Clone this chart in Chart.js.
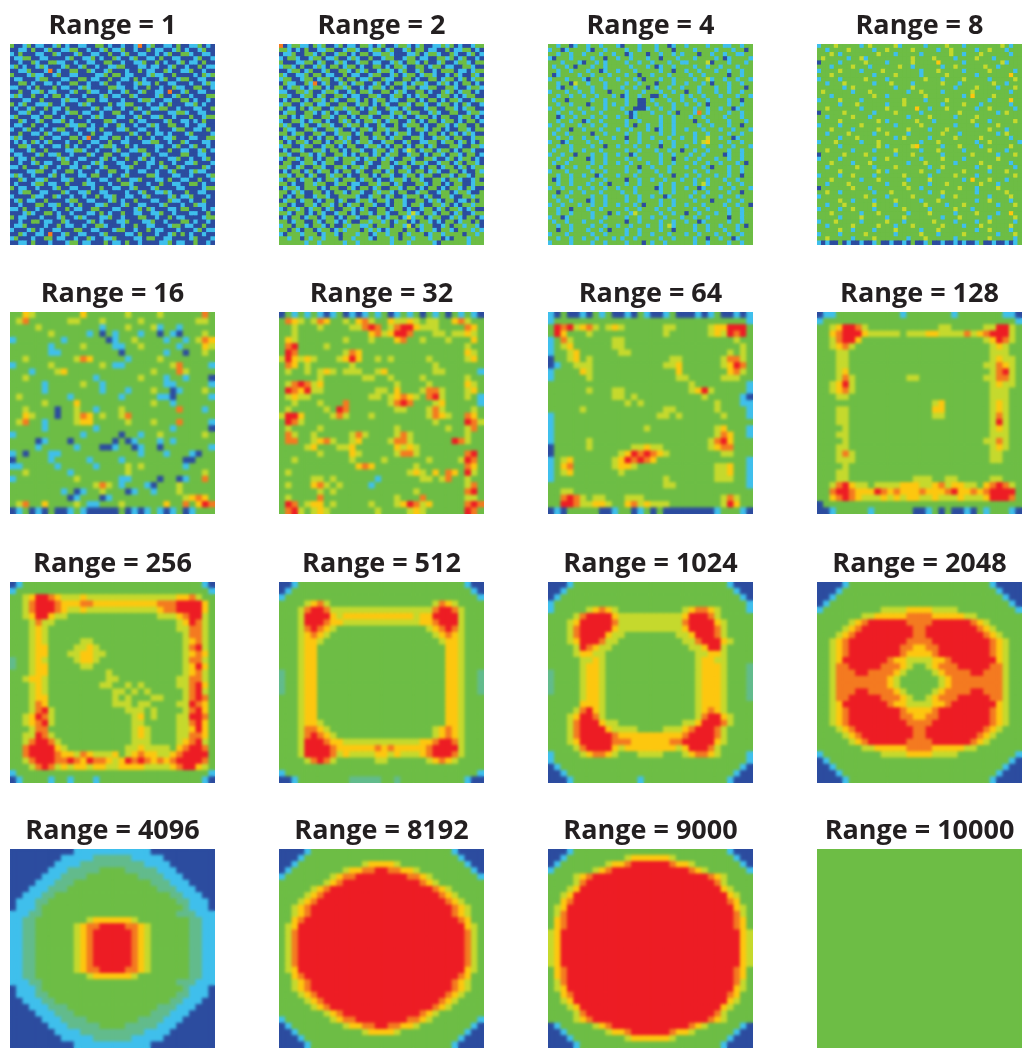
<!DOCTYPE html>
<html>
<head>
<meta charset="utf-8">
<title>Range panels</title>
<script src="https://cdn.jsdelivr.net/npm/chart.js@4/dist/chart.umd.min.js"></script>
<style>
    html, body { margin: 0; padding: 0; background: #fff; }
    #panels { position: relative; width: 1023px; height: 1048px; overflow: hidden; }
    #panels canvas { position: absolute; }
</style>
</head>
<body>
<div id="panels"></div>
<script>
// each cell is one level of the colour map
const range1 = [
"30013011 00130100 11003301 00100160 13001103 00113010","00110300 13001133 00100130 11300100 30110013 01001300","10300011 00310001 30011003 00130011 00101300 33100110","01133001 10000130 01130100 31001300 11030011 00013001",
"00100310 03311001 00110033 00100113 00301001 30110300","13010013 10001300 13001001 13300011 01100130 01003011","00113000 16010033 00310013 00010030 11003100 11300100","30001311 00130011 00001130 33011000 13110030 00010313",
"01100013 30001100 33011003 00110301 00013001 33001100","00330100 11010033 00100130 01000131 10300110 00100131","11001030 00301100 13100003 31100100 30010031 10033001","00300113 01100013 00311001 00130013 00110600 13001100",
"13100300 10330100 01000130 11003100 00130013 00100033","00011003 00001311 00330110 00100013 31001100 33010010","30130011 13001000 13100003 01133000 10010300 01130100","01001300 30110300 00013011 00100310 01133001 00011003",
"00113001 00100133 01100100 33001001 30000113 31001100","13000110 33001000 30013100 01100130 01130010 00300133","00310013 00113010 00100033 10003011 00001300 11010300","01100300 10000311 33010010 03100100 13100330 01001100",
"10013001 00133001 00110300 01130011 00100013 30011030","00300110 31001100 10030011 00003100 30110100 01300001","13100003 00110033 01600110 33010030 01001130 00110033","01010310 13000100 30011003 00110001 13300100 31000110",
"00331001 00110301 00100133 10030100 00110013 00130010","10001300 30000113 31001000 13001133 00100300 11001301","01100013 01130010 00310033 00110001 30011000 33001100","30110300 00013100 11000130 10030013 01000113 00100130",
"00100130 11003301 00013100 01100300 11030010 01130001","11030001 30010011 03100130 00113000 10013003 10000310","00001133 00100330 10001003 30010011 00100130 00131100","13100100 01301000 11033001 00130000 33100011 00100013",
"00310011 30001130 00100110 03001130 00110300 11003001","01000133 01100300 03110001 00331000 10030011 00330100","30110010 00130011 00010300 11001300 01300001 10000133","00133001 10003100 11300110 00010013 00113100 03001100",
"10000311 00310010 01003011 30011001 30000130 11300010","01301100 30000133 00110001 30100300 01100311 00100300","00100033 01130010 30001130 00130011 00013000 10031100","11030010 00100301 10033000 11000130 31000110 33000101",
"00013100 33010010 00110301 00300110 01130010 00110030","30110001 00013001 31000113 00100033 00100301 10000133","00100330 11003100 00130100 01130001 13001000 33010010","01130000 10030110 01003310 00100300 11000133 01100300",
"10001301 00110003 30011000 13300100 30110001 00013011","00310011 06001300 11000130 00011030 00100130 30100100","13000100 33011001 00310011 30000110 33001100 00130001","00110300 01000133 01100030 11030010 00011301 10030010"
];
const range2 = [
"60133110 31300130 11033101 30013310 13001131 30100133","33101030 01133001 33100133 01300130 33011003 01133010","01130033 10300133 01033011 33100011 30133100 31001301","10331001 33011300 13100300 13300133 01100331 30130010",
"30001133 01300131 00133011 00131033 10300130 01331033","13310300 13103301 33010033 01033100 33013301 10033100","00133013 00130033 10313001 33101300 13001033 30110133","31001130 33011003 01100133 00130133 01331001 03100310",
"13300133 01330130 33011300 31100330 10033013 30130133","03110031 60130013 01330013 01033101 33100131 01033010","30133101 33010331 30010133 10300133 01133003 31001331","11003313 00133100 13033100 33013100 33010031 30133010",
"33100133 01300331 01100331 00133010 13300133 01013300","01033010 33103100 33103013 30110033 01033010 33100133","13300133 01130033 00133010 31003310 33100133 01031001","30110301 33001331 33010130 03110130 00133003 31013300",
"01330033 10130100 13300331 00133013 30013100 33001331","33010133 00331033 01033100 33101300 13301033 00133010","10033101 33010031 30103313 01330013 01033013 30103301","31300130 01331003 13301003 10030133 30100331 01330030",
"03110033 10033130 01033103 31330010 33103301 00331033","33013300 33100133 30130033 01013310 01033010 31013100","01330103 01033013 10033013 30133003 31001331 03300133","30103310 33010331 30133100 13300130 01133013 30130103",
"13300133 00133010 33001331 01033010 33013000 33100331","01033100 33103301 03310013 30130143 01330133 01033100","33100331 01300331 01033013 01330013 30103310 33103301","10331033 01033103 33101330 13100331 00331001 30133010",
"03300133 10133003 31003100 33013301 33100133 01303310","33101300 33100331 03313001 33100130 01033013 30130133","01033013 01330103 30130033 01303310 33013100 33010031","33103301 30031330 10033010 33100133 01330033 10331033",
"10330133 01033103 33013301 00133103 31003310 33100130","33010033 13300133 01100331 33013000 33103301 03300133","01331033 30103300 31033013 00331033 01033010 33103100","33013100 33010331 03310031 33103300 13300133 01331003",
"30103300 13310033 33100133 01300133 30130033 10033133","01330133 01033013 00133103 31033100 33013103 30110303","33010033 10331030 13303310 01033103 31003313 01033133","10331301 33013003 31013003 30133010 01330130 33101300",
"33103301 03100133 01033103 31003314 10331033 01300133","01033013 30133010 33100331 01330141 33013300 13103301","33013300 31033101 30033133 13013301 03310103 30133030","13303310 33103003 13311303 33033140 31330013 03313310",
"33031033 01330131 33303131 01333033 01331033 10333131","10333133 30133103 33133013 31330313 33013313 33303313","33133031 33133303 31333103 33130331 33313301 03331333","33333313 31333331 33133333 33133313 33331033 33331333"
];
const range3 = [
"33133013 31331333 10333133 31330133 13333133 31133133","13301333 31033133 33133133 31333033 33133331 33313303","33133133 13331331 33013330 33133131 33303313 31331133","10333133 33133033 13313331 33033313 33133331 30133331",
"33313331 03313133 33133133 13331331 13333403 33133313","31331303 33133133 33313331 30133133 33133133 13331333","33133133 31330133 13331333 33133033 13313331 33133133","30133331 33133313 33133033 13331333 31331333 33033133",
"13331333 10331333 13331303 33133133 33133413 31331331","33133043 31333133 33133133 30333133 13331303 33133133","33103313 33133133 31331330 31331331 33313331 33133303","13331331 33133303 33133313 33133133 03313331 33133133",
"33133133 13313331 30133133 00313331 31331333 13331331","31330333 33133133 33133003 13331331 33133133 33133033","33133133 30333131 33133003 31333133 13313033 33133133","13313331 33133133 31330001 33133133 33133133 13301333",
"33133133 13331333 33101333 13331303 33163133 33133133","33013313 33133133 13301333 33133133 31331333 31333133","33133133 01331333 33133133 33133133 33033133 33133313","13313331 33133133 33130331 33133133 33313313 33133033",
"33133033 13331333 13313331 30133133 13331333 13313331","31331333 33033133 33133133 33133133 33133133 33133133","33133133 13313331 33033133 13331331 33133433 13301333","13301333 31331333 33133133 33133133 33134533 33133133",
"33133133 33133033 13331331 33033133 13331333 13313331","31333133 13331333 33133133 31331330 33133133 33133133","13313303 33133133 13301333 33133133 31331333 30133133","33133133 30133133 33133133 33133033 13313331 33133133",
"31331333 33133133 13313331 33133133 33133133 13331303","33013313 31331333 33133033 13331333 13331303 33133133","13331333 33133133 33133133 31331333 33133133 33133133","33133133 13301333 13331333 33133033 13313331 33133033",
"30133133 33133133 33033133 13313331 33133133 31331333","33133133 31331303 33133133 33133133 33134133 33133133","13313331 33133133 13331333 30133133 13301333 13313331","33033133 13331333 31331333 33133133 33133133 33133033",
"31331333 33133133 33133133 13301333 31331333 13331333","33133133 30133133 33133133 33133133 33133303 33133133","13313331 33133133 13331303 33133133 13331333 31331330","33133033 31331333 33133133 31331333 33133133 33133133",
"33133133 33133303 13314333 33133133 03313331 33133133","13301333 33133133 33133133 13313331 33133133 33033133","31331333 13331333 33033133 33133133 13301333 33133133","33133133 33133133 13313331 33134133 33133133 13331303",
"33033133 31331303 33133133 33133033 33133133 31331333","13331333 33133133 33133133 13331333 13313331 33133133","33133133 13313331 31331333 33133133 33133033 13301333","13333133 33133133 33133303 13313333 33133133 33133133"
];
const range4 = [
"13334333 33134333 33413333 31333343 33133333 33343133","33133334 33333133 43333343 33331334 33333133 43331333","33343133 33333343 33133333 13333334 33133343 33333133","34333331 33413333 33333343 33343333 13333433 31333333",
"03333133 33343333 13333343 33335333 33133333 33341333","33313333 43331333 33343313 33333133 43333334 33133333","13333433 33133334 33333333 13334333 33133333 43333313","33343333 33333133 33433333 13333343 33333133 33333533",
"13333133 33343333 13333333 34333133 33433333 13333343","33133343 33333133 34333313 33333433 31333333 34331333","33333313 43333333 33133343 33333333 13333433 33133343","34333333 13334333 33333133 43333133 33334333 33333133",
"33313333 33333433 13333333 34333333 33135333 34333333","13333433 33133333 33334333 31333343 33333333 13333533","33333133 34333333 13334333 33333133 33433313 33333133","33433333 33133333 43333335 33133343 33333133 43333313",
"03333343 33333133 33433333 13333333 34333333 33134333","33133333 43331333 33333133 33433333 13333433 33333333","33333433 33333343 13333334 33313333 33334333 13333343","13333133 33433333 33133333 43333333 13333133 33433333",
"33343333 13333343 33333433 33133343 33333333 43331333","33133334 33333133 43333133 33333433 31333333 33134333","33333133 34333333 33134333 33133333 43333343 33333133","13334333 33133343 33333333 13334333 33333133 43333331",
"33333133 33333343 13333345 33333133 34333313 33333433","33433333 13333133 33433333 13334333 33133333 43331333","03333343 33343333 33133343 33333133 33334333 33133343","13333133 33333133 43333333 13333433 33133333 33433333",
"33343333 13334333 33333133 34333333 13333343 33333133","33133333 34333133 33433333 33133433 33333133 43333313","33333433 33333343 13333333 43331333 33433333 13334333","13333133 43333133 33334333 33133333 43333133 33333343",
"33343333 33133343 33333133 33433333 33135333 43331333","33133334 33333333 13334333 33133343 33333343 33133333","03333333 43331333 33333433 13333333 34333133 33433333","33433133 33333133 34333333 33133433 33333133 33334333",
"13333333 33343333 13333343 33333133 43333333 13333433","33333433 13333133 33433333 13334333 33333133 43333133","33133343 33333433 33133333 34333313 33433333 33133343","13333133 43333133 33334333 33133333 43331333 33333333",
"33343333 33133343 33333133 33433333 13333433 33133533","33333133 33433333 13334333 33333133 34333333 13333343","13334333 33133333 43331333 33343333 13333133 43333313","33133333 43333343 33133343 33333433 33133343 33333433",
"33333433 13333133 33433333 13334333 33333133 43333133","13333133 33343333 33133333 43331333 33433333 33133343","33433333 13333433 33333133 34333333 13333333 43333313","10100301 00100130 01001030 01300100 10100130 01001013"
];
const range5 = [
"3354 3333 3335 3333 3343 3334 3333 3363","3463 3333 3443 3343 3333 4333 3333 3443","3333 4333 3333 3313 3343 3341 3313 3333","3333 3343 3333 1303 1333 1330 3103 3343",
"1333 3333 1333 3330 1334 3333 1331 3465","3333 3313 3334 3333 1133 4333 3313 3354","3333 3311 3333 3333 3033 3333 1330 3343","3343 3333 3346 5333 3313 3334 3333 3333",
"1333 3343 3333 3343 1133 3333 3463 3331","3331 3334 5333 3333 3333 3343 3364 3333","3343 3333 3333 3133 3333 4333 1331 3330","3333 3133 3334 3313 3333 3333 1133 3331",
"3333 3133 3333 3313 3313 3343 3013 3343","3433 3333 3133 3333 3133 3331 1033 3331","3333 3433 3353 3333 3333 3343 3133 3333","3343 3330 3343 3133 3433 3333 3363 3313",
"3354 3330 3346 5343 3463 3333 3333 3333","3463 3133 3345 5333 3343 3343 3363 3331","3333 3133 3333 3133 3333 3333 3133 3330","1333 3333 3331 3333 3033 1334 3333 3343",
"3333 0133 3033 3333 0301 3331 3133 3333","3333 1333 3313 3300 1330 1330 3333 3331","1303 3311 3333 3333 3333 1333 1333 1033","0333 3313 3333 1333 3133 3333 3330 0333",
"1133 3331 3333 3133 3343 4333 3331 3333","3343 3333 3133 3333 3343 3333 3333 3343","1333 3333 3343 3333 3113 3330 3301 3363","3333 3333 3333 3464 3133 3103 3343 3333",
"3333 3333 1301 3343 3301 3313 3343 3333","3333 3333 3013 3301 3333 3333 3334 5653","3463 3533 3343 1133 3433 3333 5336 3576","0130 1030 0131 0000 0301 0131 0130 1333"
];
const range6 = [
"0313 1310 1301 0131 3013 1303 1303 1310","3654 3465 3343 5643 3544 5434 4335 6433","3343 3343 3334 4676 3467 7544 4333 3653","3343 3333 3333 3356 4577 6333 4434 4543",
"3543 3333 3343 3343 3356 3343 3343 3353","3673 3334 3333 3333 3333 3333 3333 3433","3763 3333 3346 5333 3333 3333 3333 3543","4754 5433 3457 5334 3433 3334 3333 3453",
"3653 4333 3334 3333 3333 3333 4333 3333","3433 4345 4344 4334 5333 3333 4433 3331","3333 3343 3333 3443 3433 3343 3333 3433","3467 6453 3333 3333 3343 3334 3333 3543",
"3765 7443 3333 3334 4353 3346 6433 3453","3454 4333 3333 3344 3456 5436 7433 3431","3343 3343 3363 3333 3467 6333 4533 3331","3433 3334 3763 3333 3344 3334 6433 3343",
"4775 3333 4643 3343 3333 3334 6543 3653","3764 3333 3333 3333 3333 3333 4333 3764","3433 3343 3333 3333 3343 3333 3343 3463","3643 3433 3334 6433 3346 4333 3333 3433",
"3663 3456 4334 5333 3466 4333 3337 6433","3333 4533 3445 3333 3354 5433 3333 3333","3333 3343 3335 4333 3346 6433 3333 3673","3343 3333 3334 3333 4333 3334 3333 4763",
"3333 3333 3333 5653 3333 3433 3333 3653","3433 3333 3333 3333 3333 4543 5365 3743","3333 3443 4333 3331 3333 3344 3463 3433","3433 3564 3433 3313 3333 3333 3333 3463",
"3333 3343 4333 3333 3333 3433 3333 3673","3433 3363 3333 3333 3343 3363 3333 3443","3763 4553 4333 3343 3345 7645 3333 3676","3674 3454 3333 3334 3333 4543 3333 3763"
];
const range7 = [
"1030 0103 1300 1031 0013 0001 0130 0101","1333 3333 3333 3333 3333 3333 3333 3331","3767 4564 3454 3333 3344 3333 3455 7773","3753 3343 3333 3333 3343 3333 3454 7673",
"1364 3333 3344 3333 3333 3333 3333 3433","1345 3333 3344 3333 3333 3333 3333 3343","1334 5333 3334 4333 3333 3333 3333 4343","0334 5343 3333 3333 3334 4333 3334 6643",
"0133 4443 3333 3333 3344 5333 3334 5763","1333 3543 3333 3333 3333 5333 3333 5643","1333 3343 3333 3333 3333 4433 3334 4433","3333 3333 3333 3333 3333 3343 3333 3331",
"3333 3343 3344 3333 3333 3345 7433 3331","3333 3333 3344 3433 3333 3333 4333 3310","3333 3333 3333 4343 3333 3333 3343 3311","3333 3433 3333 3333 3344 3333 3343 3331",
"1333 3333 3333 3333 3443 4333 3334 3331","1333 3333 3333 3333 3333 3333 3333 3333","1333 3333 3333 3334 3333 3333 3345 3331","1333 3333 3333 3333 3333 3333 3346 5331",
"1333 3343 3333 3333 3333 3333 3467 5333","0333 3343 3333 3445 4433 3333 3456 6333","0333 3333 3334 5767 6543 3333 3334 4333","1345 3333 3345 7676 5333 3333 3333 3331",
"1356 3333 3345 5433 3333 3333 3344 5331","1345 3333 3334 3333 3333 3333 3344 5331","1333 3333 3333 3333 3343 3333 3344 4331","3333 3333 3333 3333 3344 3333 3333 3331",
"3344 3333 3333 3333 3333 3333 3333 3333","3367 6434 4333 4443 3333 3333 3334 6433","3377 6445 5433 5645 4443 3333 3334 7533","0103 3333 0013 3013 0300 0000 0013 3310"
];
const range8 = [
"0113 3333 3333 3133 3333 3133 3333 3110","1333 3333 3333 3333 3333 3333 3333 3331","3345 7764 3333 3333 3334 4333 3344 7743","3356 7775 4444 4344 4554 4446 4567 7743",
"3346 7753 3333 3333 3333 3333 3345 7643","3345 6433 3333 3333 3333 3333 3334 5433","3334 4333 3333 3333 3333 3333 3334 4433","3334 4333 3333 3333 3333 3333 3334 5443",
"3334 4333 3333 3333 3333 3333 3344 6543","3334 5333 3333 3333 3333 3333 3334 6743","3334 6433 3333 3344 3333 3333 3344 6643","3345 7433 3333 3333 3333 3333 3334 5443",
"3345 6433 3333 3333 3333 3333 3334 4433","3334 4333 3333 3333 3333 3333 3334 4433","3333 3333 3333 3333 3345 3333 3334 5433","3334 4333 3333 3333 3355 3333 3334 5433",
"3334 4333 3333 3333 3344 3333 3334 6433","3334 4333 3333 3333 3333 3333 3334 7433","3333 4333 3333 3333 3333 3333 3334 5433","3334 4333 3333 3333 3333 3333 3334 4433",
"3333 4333 3333 3333 3333 3333 3344 6433","3334 4333 3333 3333 3333 3333 3334 5433","3334 6433 3333 3333 3333 3333 3334 4333","3334 4433 3333 3333 3333 3333 3334 4333",
"3333 4333 3333 3333 3333 3333 3333 3333","3334 4333 3333 3333 3333 3333 3333 3333","3334 4333 3333 3334 4433 4433 3334 4333","3346 7544 3444 4555 4456 4554 4356 7643",
"3367 7655 5765 6555 6555 6755 6567 7773","3356 7654 4454 5455 4454 4454 4457 7763","0333 3333 3333 3333 3333 3333 3333 3333","0013 3333 1333 3330 0130 3001 0313 3310"
];
const range9 = [
"0133 3333 3333 3333 3333 3333 3333 3310","1333 3333 3333 3333 3333 3333 3333 3331","3345 7765 4445 4444 4444 4444 4455 6433","3346 7776 5556 6555 5555 5556 6677 7753",
"3346 7776 5445 4444 4444 4445 6677 7753","3345 7754 4333 3333 3333 3334 4456 7743","3334 6443 3333 3333 3333 3333 3345 7643","3334 5433 3333 3333 3333 3333 3344 6643",
"3334 5433 3333 3333 3333 3333 3334 6643","3334 5433 3334 4333 3333 3333 3334 5643","3334 5533 3344 5433 3333 3333 3334 6743","3334 5533 3445 5443 3333 3333 3334 5653",
"2334 5433 3345 5433 3333 3333 3334 6643","2334 5533 3334 4333 3333 3333 3334 5753","3334 5533 3333 3334 3333 3333 3334 5643","3345 5433 3333 3334 4333 3333 3344 6643",
"3334 5433 3333 3344 3343 4333 3344 6753","3334 5433 3333 3333 4434 3433 3334 6743","3334 5533 3333 3333 4343 3344 3334 6763","3334 6533 3333 3333 4443 4433 3344 7653",
"3334 6743 3333 3333 3344 4343 3334 6753","3345 7643 3333 3333 3334 5343 3344 7763","3345 6743 3333 3333 3334 4333 3344 6753","3334 6633 3333 3333 3334 5433 3344 5753",
"3344 7643 3333 3333 3334 5433 3344 6653","3346 7764 3333 3333 3334 4433 3345 6743","3367 7775 4333 3333 3344 5444 4356 7763","3367 7776 5546 5444 5345 6554 4567 7773",
"3346 7776 6765 7665 4576 7656 5677 7763","3334 6764 5455 4554 4555 5444 4567 7543","1333 3333 3333 3333 3333 3333 3333 3331","0133 3313 3133 3133 3333 3333 3333 3310"
];
const range10 = [
"0013 3333 3333 3333 3333 3333 3333 3100","0133 3333 3333 3333 3333 3333 3333 3310","1333 3333 3333 3333 3333 3333 3333 3331","3333 4564 3333 3333 3333 3333 4654 3333",
"3334 6776 4444 4444 4444 4444 6776 4333","3334 7777 5455 5555 5555 5455 7777 4333","3334 7776 5544 4444 4444 4455 6777 4333","3334 6765 4333 3333 3333 3334 5676 4333",
"3334 5654 3333 3333 3333 3333 4565 4333","3334 5543 3333 3333 3333 3333 3455 4333","3334 5533 3333 3333 3333 3333 3355 4333","3334 5533 3333 3333 3333 3333 3355 4333",
"3334 5533 3333 3333 3333 3333 3355 4333","3334 5533 3333 3333 3333 3333 3355 4333","2334 5533 3333 3333 3333 3333 3355 4332","2334 5533 3333 3333 3333 3333 3355 4332",
"2334 5533 3333 3333 3333 3333 3355 4332","2334 5533 3333 3333 3333 3333 3355 4332","3334 5533 3333 3333 3333 3333 3355 4333","3334 5533 3333 3333 3333 3333 3355 4333",
"3334 5533 3333 3333 3333 3333 3355 4333","3334 5533 3333 3333 3333 3333 3355 4333","3334 5543 3333 3333 3333 3333 3355 4333","3334 6654 3333 3333 3333 3333 4565 4333",
"3334 6765 4333 3333 3333 3333 4565 4333","3334 7776 5544 4444 4444 4455 6776 4333","3334 7777 6555 5556 5655 5556 7777 4333","3334 7777 6454 4445 5454 4456 7776 4333",
"3333 4676 4333 3334 4333 3334 5654 3333","3333 3333 3333 3333 3333 3333 3333 3333","1333 3333 3333 3333 3333 3333 3333 3331","0013 3333 3332 2222 3323 3333 3333 3100"
];
const range11 = [
"0001 3333 3333 3333 3333 3333 3333 1000","0013 3333 3333 3333 3333 3333 3333 3100","0133 3333 3333 3333 3333 3333 3333 3310","1333 3333 3333 3333 3333 3333 3333 3331",
"1333 3345 6543 3333 3333 3456 6543 3331","3333 4677 7754 4444 4444 4577 7643 3333","3334 5777 7764 4444 4444 4677 7754 3333","3334 6777 7754 4444 4444 4577 7764 3333",
"3334 6777 7544 3333 3333 4457 7764 3333","3334 5777 6443 3333 3333 3446 7775 4333","3333 4765 4433 3333 3333 3344 5774 3333","3333 4554 4333 3333 3333 3334 4554 3333",
"3333 3445 4333 3333 3333 3334 5544 3333","3333 3455 4333 3333 3333 3334 5554 3332","2333 3455 4333 3333 3333 3334 5554 3332","2333 3455 4333 3333 3333 3334 5554 3332",
"2333 3455 4333 3333 3333 3334 5554 3332","2333 3455 4333 3333 3333 3334 5554 3332","3333 3455 4333 3333 3333 3334 5554 3332","3333 3555 4333 3333 3333 3334 5554 3333",
"3333 4675 4333 3333 3333 3334 5654 3333","3334 5776 4333 3333 3333 3334 6775 4333","3334 6777 5443 3333 3333 3445 7776 4333","3334 6777 7544 4433 3344 4567 7764 3333",
"3334 6777 7765 5555 5555 5677 7764 3333","3334 5777 7766 6555 5556 6777 7754 3333","3333 4677 7754 5555 5555 4577 7643 3333","1333 3456 6543 3344 4433 3456 6543 3331",
"1333 3333 3333 3333 3333 3333 3333 3331","0133 3333 3333 3333 3333 3333 3333 3310","0013 3333 3333 3333 3333 3333 3333 3100","0001 3333 3333 3313 3333 3333 3333 1000"
];
const range12 = [
"0000 1333 3333 3333 3333 3333 3331 0000","0001 3333 3333 3333 3333 3333 3333 1000","0013 3333 3333 3333 3333 3333 3333 3100","0133 3333 3333 3333 3333 3333 3333 3310",
"1333 3333 3344 4455 5544 4433 3333 3331","3333 3334 4555 5566 6655 5554 4333 3333","3333 3456 7777 7766 6677 7777 6543 3333","3333 4567 7777 7776 6777 7777 7654 3333",
"3334 5677 7777 7776 6777 7777 7765 4333","3345 6777 7777 7766 6677 7777 7776 5433","3345 6777 7777 7665 5667 7777 7776 5433","3345 6777 7777 7655 5567 7777 7776 5433",
"3345 7777 7776 5544 4455 6777 7777 5433","3346 6777 7766 6543 3456 6677 7776 6433","3346 6677 6666 5433 3345 6666 7766 6433","3346 6666 6665 4333 3334 5666 6666 6433",
"3346 6666 6665 4333 3334 5666 6666 6433","3346 6677 6666 5433 3345 6666 7766 6433","3346 6777 7766 6543 3456 6677 7776 6433","3345 7777 7776 5544 4455 6777 7777 5433",
"3345 6777 7777 7655 5567 7777 7776 5433","3345 6777 7777 7665 5667 7777 7776 5433","3345 6777 7777 7766 6677 7777 7776 5433","3334 5677 7777 7776 6777 7777 7765 4333",
"3333 4567 7777 7776 6777 7777 7654 3333","3333 3456 7777 7766 6677 7777 6543 3333","3333 3334 4555 5566 6655 5554 4333 3333","1333 3333 3344 4455 5544 4433 3333 3331",
"0133 3333 3333 3333 3333 3333 3333 3310","0013 3333 3333 3333 3333 3333 3333 3100","0001 3333 3333 3333 3333 3333 3333 1000","0000 1333 3333 3333 3333 3333 3331 0000"
];
const range13 = [
"0000 0000 0011 1111 1111 1100 0000 0000","0000 0000 1111 1222 2221 1111 0000 0000","0000 0001 1112 2222 2222 2111 1000 0000","0000 0011 1222 2233 3322 2221 1100 0000",
"0000 0111 2222 3333 3333 2222 1110 0000","0000 1112 2233 3333 3333 3322 2111 0000","0001 1122 2333 3333 3333 3332 2211 1000","0011 1223 3333 3333 3333 3333 3221 1100",
"0111 2233 3333 3333 3333 3333 3322 1110","0111 2333 3333 3333 3333 3333 3332 1110","1112 2333 3333 3333 3333 3333 3322 2111","1122 3333 3333 4555 5554 3333 3333 2211",
"1122 3333 3345 6677 7766 5433 3333 2211","1122 3333 3345 6777 7776 5433 3333 2211","1122 3333 3345 6777 7776 5433 3333 2211","1122 3333 3345 6777 7776 5433 3333 2211",
"1122 3333 3345 6777 7776 5433 3333 2211","1122 3333 3345 6777 7776 5433 3333 2211","1122 3333 3345 6777 7776 5433 3333 2211","1122 3333 3345 6677 7766 5433 3333 2211",
"1122 3333 3333 4555 5554 3333 3333 2211","1112 2333 3333 3333 3333 3333 3322 2111","0111 2333 3333 3333 3333 3333 3332 1110","0111 2233 3333 3333 3333 3333 3322 1110",
"0011 1223 3333 3333 3333 3333 3221 1100","0001 1122 2333 3333 3333 3332 2211 1000","0000 1112 2233 3333 3333 3322 2111 0000","0000 0111 2222 3333 3333 2222 1110 0000",
"0000 0011 1222 2233 3322 2221 1100 0000","0000 0001 1112 2222 2222 2111 1000 0000","0000 0000 1111 1222 2221 1111 0000 0000","0000 0000 0011 1111 1111 1100 0000 0000"
];
const range14 = [
"0000 1333 3333 3333 3333 3333 3331 0000","0001 3333 3333 3333 3333 3333 3333 1000","0013 3333 3333 3455 5543 3333 3333 3100","0133 3333 3345 5667 7665 5433 3333 3310",
"1333 3333 4566 7777 7777 6654 3333 3331","3333 3334 5677 7777 7777 7765 4333 3333","3333 3456 7777 7777 7777 7777 6543 3333","3333 4567 7777 7777 7777 7777 7654 3333",
"3334 5677 7777 7777 7777 7777 7765 4333","3345 6777 7777 7777 7777 7777 7776 5433","3345 6777 7777 7777 7777 7777 7776 5433","3356 7777 7777 7777 7777 7777 7777 6533",
"3457 7777 7777 7777 7777 7777 7777 7543","3467 7777 7777 7777 7777 7777 7777 7643","3467 7777 7777 7777 7777 7777 7777 7643","3467 7777 7777 7777 7777 7777 7777 7643",
"3467 7777 7777 7777 7777 7777 7777 7643","3467 7777 7777 7777 7777 7777 7777 7643","3467 7777 7777 7777 7777 7777 7777 7643","3457 7777 7777 7777 7777 7777 7777 7543",
"3356 7777 7777 7777 7777 7777 7777 6533","3345 6777 7777 7777 7777 7777 7776 5433","3345 6777 7777 7777 7777 7777 7776 5433","3334 5677 7777 7777 7777 7777 7765 4333",
"3333 4567 7777 7777 7777 7777 7654 3333","3333 3456 7777 7777 7777 7777 6543 3333","3333 3334 5677 7777 7777 7765 4333 3333","1333 3333 4566 7777 7777 6654 3333 3331",
"0133 3333 3345 5667 7665 5433 3333 3310","0013 3333 3333 3455 5543 3333 3333 3100","0001 3333 3333 3333 3333 3333 3333 1000","0000 1333 3333 3333 3333 3333 3331 0000"
];
const range15 = [
"0001 3333 3333 3333 3333 3333 3333 1000","0013 3333 3333 4555 5554 3333 3333 3100","0133 3333 3455 6777 7776 5543 3333 3310","1333 3334 5677 7777 7777 7765 4333 3331",
"3333 4567 7777 7777 7777 7777 7654 3333","3333 4677 7777 7777 7777 7777 7764 3333","3334 5777 7777 7777 7777 7777 7775 4333","3345 7777 7777 7777 7777 7777 7777 5433",
"3356 7777 7777 7777 7777 7777 7777 6533","3457 7777 7777 7777 7777 7777 7777 7543","3467 7777 7777 7777 7777 7777 7777 7643","3567 7777 7777 7777 7777 7777 7777 7653",
"3567 7777 7777 7777 7777 7777 7777 7653","4577 7777 7777 7777 7777 7777 7777 7754","4577 7777 7777 7777 7777 7777 7777 7754","4577 7777 7777 7777 7777 7777 7777 7754",
"4577 7777 7777 7777 7777 7777 7777 7754","4577 7777 7777 7777 7777 7777 7777 7754","4577 7777 7777 7777 7777 7777 7777 7754","3567 7777 7777 7777 7777 7777 7777 7653",
"3567 7777 7777 7777 7777 7777 7777 7653","3467 7777 7777 7777 7777 7777 7777 7643","3457 7777 7777 7777 7777 7777 7777 7543","3356 7777 7777 7777 7777 7777 7777 6533",
"3345 7777 7777 7777 7777 7777 7777 5433","3334 5777 7777 7777 7777 7777 7775 4333","3333 4677 7777 7777 7777 7777 7764 3333","3333 4567 7777 7777 7777 7777 7654 3333",
"0133 3334 5677 7777 7777 7765 4333 3310","0013 3333 3455 6777 7776 5543 3333 3100","0001 3333 3333 4555 5554 3333 3333 1000","0000 1333 3333 3333 3333 3333 3331 0000"
];
const range16 = ["3"];

const rangeLabels = [1, 2, 4, 8, 16, 32, 64, 128, 256, 512, 1024, 2048, 4096, 8192, 9000, 10000];
const rangeCells = [range1, range2, range3, range4, range5, range6, range7, range8,
    range9, range10, range11, range12, range13, range14, range15, range16];
const levelColors = ['#2c4c9f', '#3fbfec', '#62bb8c', '#6dbd45', '#c5d92d', '#fdc70f', '#f47a20', '#ed1c24'];

const panelLefts = [10, 279, 548, 817];
const panelTops = [44, 312, 582, 849];
const panelSizes = [[205, 201], [205, 202], [205, 201], [205, 199]];
const titleHeight = 40;

// the reference is a soft scan, so the finished cells are redrawn with a small blur
const softCells = {
    id: 'softCells',
    afterDatasetsDraw(chart, args, options) {
        const {ctx, canvas, chartArea: a} = chart;
        const w = a.right - a.left;
        const h = a.bottom - a.top;

        ctx.save();
        ctx.beginPath();
        ctx.rect(a.left, a.top, w, h);
        ctx.clip();
        ctx.filter = `blur(${options.blur}px)`;
        ctx.drawImage(canvas, a.left, a.top, w, h, a.left, a.top, w, h);
        ctx.restore();
    }
};

const panels = document.querySelector('#panels');

rangeLabels.forEach((label, i) => {
    const rows = rangeCells[i].map(row => row.replace(/ /g, ''));
    const cols = rows[0].length;
    const points = [];
    const colors = [];

    rows.forEach((row, r) => {
        [...row].forEach((cell, c) => {
            points.push({x: c + 0.5, y: r + 0.5});
            colors.push(levelColors[Number(cell)]);
        });
    });

    const col = i % 4;
    const line = Math.floor(i / 4);
    const [width, height] = panelSizes[line];
    const canvas = document.createElement('canvas');
    canvas.width = width;
    canvas.height = height + titleHeight;
    canvas.style.left = panelLefts[col] + 'px';
    canvas.style.top = (panelTops[line] - titleHeight) + 'px';
    panels.appendChild(canvas);

    // a rect point is a square whose half diagonal is the radius
    const cellSide = Math.max(width / cols, height / rows.length);

    new Chart(canvas, {
        type: 'scatter',
        plugins: [softCells],
        data: {
            datasets: [{
                data: points,
                clip: 0,
                pointStyle: 'rect',
                pointBorderWidth: 0,
                pointBackgroundColor: colors,
                pointRadius: (cellSide + 0.6) * Math.SQRT1_2
            }]
        },
        options: {
            responsive: false,
            animation: false,
            events: [],
            layout: {padding: 0, autoPadding: false},
            plugins: {
                legend: {display: false},
                tooltip: {enabled: false},
                softCells: {blur: label < 16 ? 0.6 : 1.6},
                title: {
                    display: true,
                    text: 'Range = ' + label,
                    color: '#231f20',
                    font: {family: '"Open Sans"', size: 27, weight: 'bold', lineHeight: 1.2},
                    padding: {top: 5.8, bottom: 1.8}
                }
            },
            scales: {
                x: {type: 'linear', display: false, min: 0, max: cols},
                y: {type: 'linear', display: false, min: 0, max: rows.length, reverse: true}
            }
        }
    });
});
</script>
</body>
</html>
